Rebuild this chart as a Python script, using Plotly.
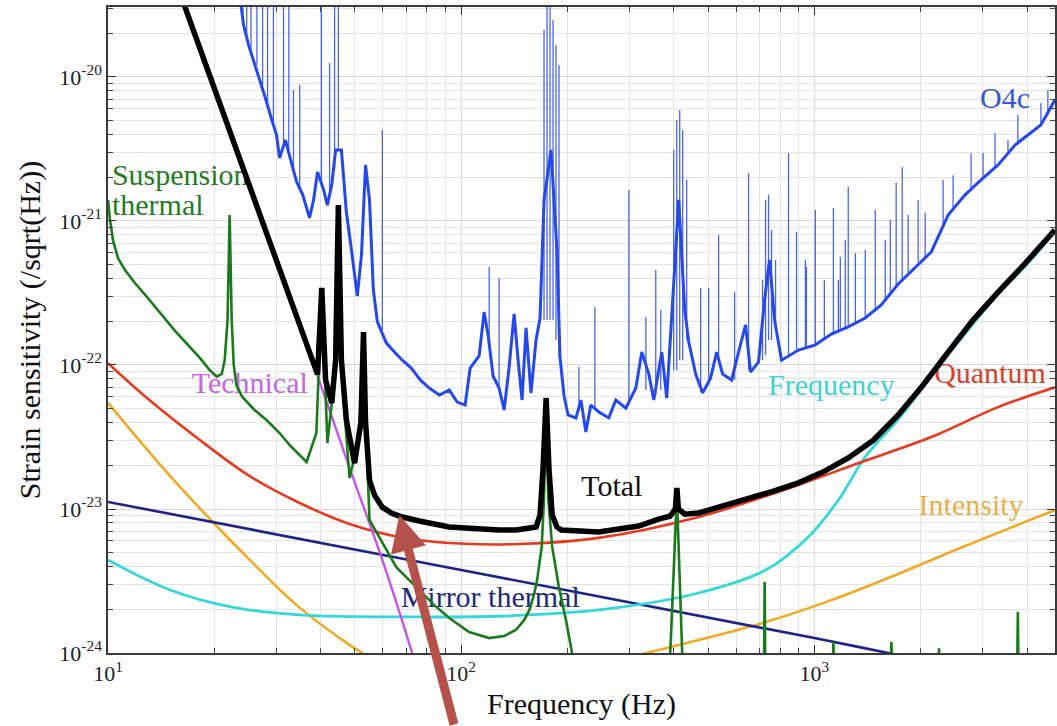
import plotly.graph_objects as go

# ---------------- data (frequency in Hz, strain in 1/sqrt(Hz)) ----------------
# O4c measured sensitivity: broadband floor
o4c_freq = [23.6, 24.2, 25.0, 25.8, 26.9, 27.9, 29.1, 30.0, 30.6, 31.8, 32.9, 34.2, 35.6, 37.2,
            38.2, 39.2, 40.8, 41.8, 43.0, 44.1, 45.8, 47.3, 48.9, 50.8, 52.2, 53.6, 55.0, 56.4,
            57.9, 61.4, 64.7, 68.1, 72.2, 76.6, 81.2, 86.7, 92.5, 97.4, 102.6, 106.0, 112.4,
            116.1, 119.2, 123.1, 128.0, 132.3, 136.6, 141.2, 144.9, 148.7, 152.6, 157.6, 162.9,
            167.2, 171.6, 179.6, 186.7, 190.4, 195.4, 200.6, 211.3, 218.3, 225.4, 232.8, 245.3,
            261.8, 274.0, 292.5, 312.2, 324.6, 339.7, 350.9, 369.7, 381.9, 397.1, 412.9, 429.4,
            440.7, 461.2, 482.7, 508.4, 528.7, 549.7, 583.0, 610.0, 638.4, 659.5, 694.8, 722.6,
            746.5, 771.2, 807.1, 901.5, 1006, 1117, 1247, 1393, 1546, 1727, 1929, 2141, 2391,
            2671, 2964, 3311, 3698, 4023, 4377, 4796]
o4c_strain = [3.71e-20, 2.30e-20, 1.67e-20, 1.31e-20, 9.84e-21, 7.14e-21, 5.02e-21, 3.96e-21,
              2.74e-21, 3.65e-21, 2.65e-21, 1.87e-21, 1.52e-21, 1.05e-21, 1.40e-21, 2.19e-21,
              1.64e-21, 1.29e-21, 1.78e-21, 3.11e-21, 3.11e-21, 1.155e-21, 6.29e-22, 3.01e-22,
              5.81e-22, 2.45e-21, 1.40e-21, 3.32e-22, 1.99e-22, 1.42e-22, 1.23e-22, 1.08e-22,
              9.53e-23, 7.87e-23, 6.92e-23, 6.19e-23, 6.70e-23, 5.53e-23, 5.27e-23, 9.53e-23,
              1.155e-22, 2.33e-22, 1.61e-22, 8.39e-23, 6.92e-23, 4.87e-23, 9.53e-23, 2.26e-22,
              1.08e-22, 5.71e-23, 1.81e-22, 6.39e-23, 1.49e-22, 2.12e-22, 1.40e-21, 3.11e-21,
              6.29e-22, 1.14e-22, 6.19e-23, 4.50e-23, 4.29e-23, 5.71e-23, 3.43e-23, 5.27e-23,
              4.72e-23, 4.29e-23, 5.71e-23, 5.02e-23, 6.92e-23, 1.23e-22, 8.66e-23, 5.71e-23,
              1.23e-22, 5.90e-23, 2.83e-22, 1.40e-21, 2.41e-22, 1.45e-22, 8.66e-23, 6.39e-23,
              8.13e-23, 1.23e-22, 8.66e-23, 7.87e-23, 1.23e-22, 1.90e-22, 8.93e-23, 1.05e-22,
              2.83e-22, 5.36e-22, 2.05e-22, 1.08e-22, 1.27e-22, 1.38e-22, 1.64e-22, 1.84e-22,
              2.12e-22, 2.61e-22, 3.65e-22, 4.72e-22, 6.09e-22, 1.10e-21, 1.52e-21, 1.93e-21,
              2.45e-21, 3.37e-21, 3.96e-21, 4.64e-21, 6.92e-21]

# O4c narrow spectral lines: frequency, floor under the line, line top
o4c_line_freq = [24.1, 24.7, 25.4, 26.4, 27.4, 28.3, 29.4, 31.4, 32.5, 33.5, 34.9, 40.2, 42.4,
                 43.8, 44.9, 59.8, 120.0, 128.0, 171.6, 175.0, 178.4, 182.0, 185.5, 189.2,
                 215.4, 239.0, 298.3, 333.2, 355.5, 367.3, 399.7, 407.6, 415.6, 423.8, 434.9,
                 476.4, 501.9, 535.6, 594.3, 651.0, 713.2, 727.4, 741.7, 756.3, 776.2, 844.7,
                 889.9, 943, 949.4, 1006, 1067, 1132, 1169, 1184, 1223, 1247, 1306, 1393, 1487,
                 1587, 1640, 1704, 1773, 1843, 1967, 2059, 2314, 2470, 2777, 3003, 3246, 3532,
                 3767, 4377, 4581]
o4c_line_floor = [2.30e-20, 1.96e-20, 1.54e-20, 1.21e-20, 8.80e-21, 6.39e-21, 4.64e-21, 3.37e-21,
                  3.11e-21, 2.26e-21, 1.69e-21, 1.93e-21, 1.52e-21, 2.26e-21, 3.11e-21, 1.75e-22,
                  1.49e-22, 6.92e-23, 2.05e-22, 2.05e-22, 2.05e-22, 2.05e-22, 1.49e-22, 1.14e-22,
                  4.87e-23, 4.87e-23, 5.27e-23, 6.70e-23, 6.19e-23, 6.70e-23, 9.23e-23, 9.23e-23,
                  1.08e-22, 1.08e-22, 1.49e-22, 6.49e-23, 7.26e-23, 1.08e-22, 7.87e-23, 9.23e-23,
                  1.08e-22, 1.17e-22, 1.49e-22, 1.49e-22, 1.75e-22, 1.12e-22, 1.23e-22, 1.31e-22,
                  1.31e-22, 1.38e-22, 1.49e-22, 1.61e-22, 1.69e-22, 1.72e-22, 1.81e-22, 1.84e-22,
                  1.96e-22, 2.12e-22, 2.49e-22, 2.83e-22, 3.06e-22, 3.54e-22, 3.89e-22, 4.22e-22,
                  5.19e-22, 5.53e-22, 9.38e-22, 1.19e-21, 1.64e-21, 1.99e-21, 2.33e-21, 3.01e-21,
                  3.48e-21, 4.64e-21, 5.45e-21]
o4c_line_top = [4.72e-20, 4.72e-20, 4.72e-20, 4.72e-20, 4.72e-20, 4.72e-20, 4.72e-20, 4.72e-20,
                4.72e-20, 8.13e-21, 8.80e-21, 4.72e-20, 1.25e-20, 4.72e-20, 4.72e-20, 4.29e-21,
                4.80e-22, 4.02e-22, 2.12e-20, 4.72e-20, 3.06e-20, 2.49e-20, 1.67e-20, 1.21e-20,
                9.69e-23, 2.53e-22, 1.64e-21, 2.15e-22, 4.57e-22, 2.41e-22, 3.11e-21, 5.02e-21,
                5.90e-21, 4.29e-21, 1.93e-21, 3.43e-22, 3.43e-22, 8.00e-22, 3.21e-22, 2.15e-21,
                3.89e-22, 1.40e-21, 1.52e-21, 8.66e-22, 5.36e-22, 2.97e-21, 8.39e-22, 5.36e-22,
                4.80e-22, 1.19e-21, 3.89e-22, 1.23e-21, 3.89e-22, 5.62e-22, 7.38e-22, 1.72e-21,
                6.00e-22, 6.29e-22, 1.19e-21, 7.38e-22, 1.02e-21, 1.84e-21, 2.37e-21, 1.10e-21,
                1.40e-21, 1.14e-21, 1.93e-21, 2.08e-21, 2.97e-21, 2.97e-21, 4.08e-21, 3.65e-21,
                5.45e-21, 6.59e-21, 8.13e-21]

# Noise budget: total
total_freq = [15.0, 39.2, 40.3, 41.3, 43.0, 44.1, 44.9, 45.8, 47.3, 49.9, 52.0, 52.9, 53.6, 55.0,
              56.8, 59.8, 63.4, 68.1, 76.1, 92.5, 128, 143, 162.9, 167.2, 170.4, 174, 177.3,
              181, 186.7, 192, 245, 279, 318, 362, 390, 404, 408, 412, 430, 470, 553, 651, 766,
              901, 1060, 1247, 1468, 1727, 2032, 2391, 2812, 3311, 3890, 4796]
total_strain = [5.9e-20, 8.6e-23, 3.43e-22, 7.9e-23, 5.44e-23, 1.08e-22, 1.29e-21, 1.08e-22,
                4.15e-23, 2.08e-23, 4.0e-23, 1.69e-22, 4.0e-23, 1.59e-23, 1.25e-23, 1.03e-23,
                9.38e-24, 8.8e-24, 8.26e-24, 7.5e-24, 7.14e-24, 7.14e-24, 7.5e-24, 9.1e-24,
                1.87e-23, 5.9e-23, 1.87e-23, 9.1e-24, 7.5e-24, 7.14e-24, 6.92e-24, 7.25e-24,
                7.62e-24, 8.5e-24, 8.9e-24, 1.0e-23, 1.40e-23, 1.0e-23, 9.2e-24, 9.38e-24,
                1.05e-23, 1.19e-23, 1.33e-23, 1.52e-23, 1.81e-23, 2.26e-23, 3.0e-23, 4.5e-23,
                7.26e-23, 1.23e-22, 2.05e-22, 3.21e-22, 4.87e-22, 8.66e-22]

# Suspension thermal (segments separated by None)
susp_freq = [10.0, 10.13, 10.33, 10.67, 11.17, 11.92, 13.1, 15.5, 18.2, 19.4, 20.3, 21.0, 21.4,
             21.8, 22.1, 22.4, 22.7, 23.1, 24.0, 26.0, 28.1, 30.6, 32.7, 36.5, 38.9, 40.3, 41.8,
             44.0, 44.9, 45.8, 48.3, 52.0, 52.9, 53.8, 55.0, 59.8, 65.5, 74.6, 83.9, 92.5,
             105.3, 120, 132.3, 143, 150.7, 156, 160.7, 164, 169, 171.5, 174, 176.5, 181, 189,
             198, 206, 212, None,
             390, 408, 423, None,
             720, 723, 726, None,
             1127, 1132, 1137, None,
             1645, 1652, 1659, None,
             2245, 2254, 2263, None,
             3752, 3767, 3782]
susp_strain = [1.40e-21, 1.02e-21, 7.38e-22, 5.53e-22, 4.57e-22, 3.71e-22, 2.83e-22, 1.72e-22,
               1.12e-22, 9.23e-23, 8.3e-23, 8.66e-23, 1.08e-22, 2.05e-22, 1.10e-21, 2.05e-22,
               1.0e-22, 7.26e-23, 6.0e-23, 4.87e-23, 4.15e-23, 3.37e-23, 2.78e-23, 2.12e-23,
               3.37e-23, 3.3e-22, 2.87e-23, 9.0e-23, 1.2e-21, 9.0e-23, 1.64e-23, 3.5e-23,
               1.6e-22, 3.5e-23, 8.4e-24, 5.8e-24, 3.95e-24, 2.87e-24, 2.15e-24, 1.75e-24,
               1.40e-24, 1.27e-24, 1.31e-24, 1.45e-24, 1.69e-24, 1.99e-24, 2.53e-24, 3.21e-24,
               5.45e-24, 1.15e-23, 5.3e-23, 1.15e-23, 5.45e-24, 2.87e-24, 1.69e-24, 1.0e-24,
               7.0e-25, None,
               9.0e-25, 1.25e-23, 9.0e-25, None,
               8.0e-25, 3.11e-24, 8.0e-25, None,
               8.0e-25, 1.19e-24, 8.0e-25, None,
               8.0e-25, 1.19e-24, 8.0e-25, None,
               8.0e-25, 1.08e-24, 8.0e-25, None,
               8.0e-25, 1.93e-24, 8.0e-25]

# Technical noise
tech_freq = [15.0, 16.5, 39.7, 48.3, 59.8, 72.2, 80.0]
tech_strain = [6.2e-20, 3.0e-20, 7.7e-23, 1.93e-23, 4.43e-24, 1.05e-24, 4.5e-25]

# Quantum noise
quantum_freq = [10, 13.1, 18.2, 25.2, 34.9, 48.3, 66.8, 92.5, 146, 245, 470, 901, 1330, 2143,
                3311, 4800]
quantum_strain = [1.03e-22, 5.71e-23, 3.01e-23, 1.69e-23, 1.10e-23, 7.87e-24, 6.39e-24, 5.8e-24,
                  5.71e-24, 6.3e-24, 8.8e-24, 1.47e-23, 2.08e-23, 3.16e-23, 5.1e-23, 7.0e-23]

# Frequency noise
freqnoise_freq = [10, 15.0, 22.5, 34.8, 74.6, 128, 245, 470, 728, 961, 1169, 1393, 1727, 2141,
                  2671, 3311, 4101, 4796]
freqnoise_strain = [4.43e-24, 2.74e-24, 2.08e-24, 1.84e-24, 1.78e-24, 1.80e-24, 1.99e-24,
                    2.61e-24, 3.77e-24, 6.4e-24, 1.15e-23, 2.3e-23, 4.2e-23, 8.3e-23, 1.65e-22,
                    3.1e-22, 5.35e-22, 8.5e-22]

# Intensity noise (low- and high-frequency branches)
intensity_freq = [10, 12.3, 15.0, 19.8, 25.2, 34.2, 48.3, 66.8, None,
                  318, 470, 728, 1117, 1727, 2671, 4796]
intensity_strain = [5.45e-23, 2.97e-23, 1.69e-23, 8.12e-24, 4.43e-24, 2.15e-24, 1.14e-24,
                    7.04e-25, None, 9.7e-25, 1.23e-24, 1.64e-24, 2.33e-24, 3.54e-24, 5.53e-24,
                    9.8e-24]

# Mirror thermal noise
mirror_freq = [10, 100, 1000, 1618, 3000]
mirror_strain = [1.12e-23, 3.77e-24, 1.27e-24, 1.0e-24, 7.4e-25]

# Axis tick labels
x_tick_vals = [10, 100, 1000]
x_tick_text = ['10<sup>1</sup>', '10<sup>2</sup>', '10<sup>3</sup>']
y_tick_vals = [1e-24, 1e-23, 1e-22, 1e-21, 1e-20]
y_tick_text = ['10<sup>-24</sup>', '10<sup>-23</sup>', '10<sup>-22</sup>',
               '10<sup>-21</sup>', '10<sup>-20</sup>']

# Curve labels: text, colour, anchor frequency, anchor strain, text position
curve_labels = [
    ('Suspension', '#1f7d1f', 10.26, 2.02e-21, 'middle right'),
    ('thermal', '#1f7d1f', 10.26, 1.25e-21, 'middle right'),
    ('Technical', '#c468e0', 25.2, 7.15e-23, 'middle center'),
    ('Frequency', '#3fd3d3', 1117, 7.03e-23, 'middle center'),
    ('Quantum', '#d9402a', 3141, 8.4e-23, 'middle center'),
    ('O4c', '#3456d8', 3467, 6.92e-21, 'middle center'),
    ('Total', '#111111', 267, 1.38e-23, 'middle center'),
    ('Intensity', '#e6b04a', 2777, 1.03e-23, 'middle center'),
    ('Mirror thermal', '#23297a', 120.8, 2.37e-24, 'middle center'),
]

SERIF = 'Liberation Serif, Times New Roman, serif'

fig = go.Figure()

# labels go first so curves are drawn over them
for text, color, fx, fy, pos in curve_labels:
    fig.add_trace(go.Scatter(x=[fx], y=[fy], mode='text', text=[text], textposition=pos,
                             textfont=dict(family=SERIF, size=30, color=color),
                             hoverinfo='skip', showlegend=False))


def add_curve(fx, fy, color, width, shape='linear'):
    fig.add_trace(go.Scatter(x=fx, y=fy, mode='lines', line=dict(color=color, width=width,
                                                                  shape=shape),
                             connectgaps=False, hoverinfo='skip', showlegend=False))


add_curve(intensity_freq, intensity_strain, '#f0aa24', 2.6, 'spline')
add_curve(mirror_freq, mirror_strain, '#1c2486', 2.6, 'spline')
add_curve(freqnoise_freq, freqnoise_strain, '#33d8d8', 2.8, 'spline')
add_curve(quantum_freq, quantum_strain, '#e63a20', 2.6, 'spline')
add_curve(tech_freq, tech_strain, '#c456e6', 2.4, 'spline')
add_curve(susp_freq, susp_strain, '#1b7a1b', 2.6)

# O4c: floor plus narrow lines
add_curve(o4c_freq, o4c_strain, '#2548ea', 3)
line_x, line_y = [], []
for f, lo, hi in zip(o4c_line_freq, o4c_line_floor, o4c_line_top):
    line_x += [f, f, None]
    line_y += [lo, hi, None]
add_curve(line_x, line_y, 'rgba(45,75,230,0.85)', 1.3)

add_curve(total_freq, total_strain, '#000000', 5.5)

axis_common = dict(
    type='log', showline=True, linecolor='#3a3a3a', linewidth=1.5, mirror='allticks',
    ticks='inside', ticklen=8, tickwidth=1.3, tickcolor='#333333',
    showgrid=True, gridcolor='#d9d9d9', gridwidth=1, zeroline=False,
    tickfont=dict(family=SERIF, size=22, color='#222222'),
    minor=dict(ticks='inside', ticklen=5, tickwidth=1, tickcolor='#444444',
               showgrid=True, gridcolor='#e4e4e4', gridwidth=1, dtick='D1'),
)

fig.update_xaxes(range=[1, 3.6812], tickmode='array', tickvals=x_tick_vals,
                 ticktext=x_tick_text, **axis_common)
fig.update_yaxes(range=[-24, -19.514], tickmode='array', tickvals=y_tick_vals,
                 ticktext=y_tick_text, ticklabelstandoff=0, **axis_common)

fig.update_layout(
    width=1057, height=726,
    margin=dict(l=108, r=0, t=7, b=73),
    paper_bgcolor='white', plot_bgcolor='white',
    showlegend=False,
    annotations=[
        dict(text='Frequency (Hz)', xref='paper', yref='paper', x=0.5, y=-0.079,
             xanchor='center', yanchor='middle', showarrow=False,
             font=dict(family=SERIF, size=30, color='#111111')),
        dict(text='Strain sensitivity (/sqrt(Hz))', xref='paper', yref='paper',
             x=-0.0822, y=0.5, xanchor='center', yanchor='middle', textangle=-90,
             showarrow=False, font=dict(family=SERIF, size=30, color='#111111')),
        dict(text='', xref='paper', yref='paper', x=0.3077, y=0.2136, ax=55, ay=215,
             showarrow=True, arrowhead=2, arrowsize=0.8, arrowwidth=9, standoff=0,
             arrowcolor='#b5524b'),
    ],
)

fig.write_html('out.html')
